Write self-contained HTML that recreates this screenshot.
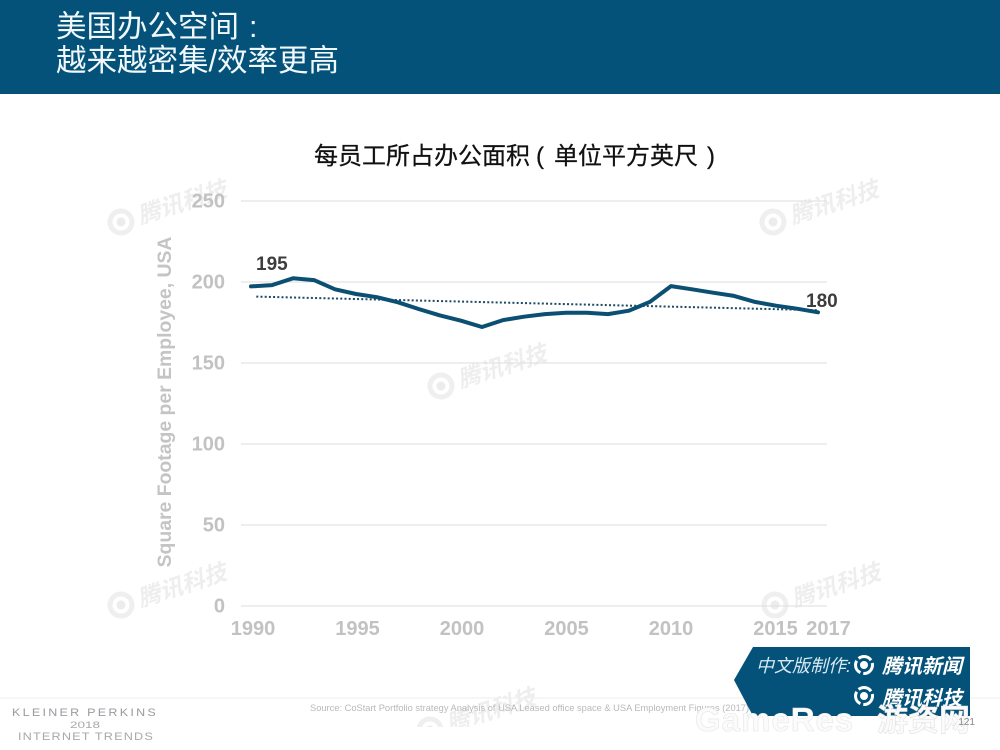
<!DOCTYPE html>
<html lang="zh">
<head>
<meta charset="utf-8">
<title>美国办公空间</title>
<style>
html,body{margin:0;padding:0;background:#fff;}
body{width:1000px;height:750px;overflow:hidden;position:relative;}
svg{display:block;position:absolute;left:0;top:0;}
text{font-family:"Liberation Sans","Noto Sans CJK SC",sans-serif;}
.wm text{font-size:23px;font-weight:700;font-style:italic;fill:#eeeeee;}
</style>
</head>
<body>
<svg id="chart" width="1000" height="750" viewBox="0 0 1000 750" xmlns="http://www.w3.org/2000/svg">
  <defs>
    <clipPath id="wm-clip"><rect x="0" y="0" width="1000" height="727"/></clipPath>
    <g id="logo-mark-grey">
      <circle cx="0" cy="0" r="11" fill="none" stroke="#efefef" stroke-width="5"/>
      <circle cx="0" cy="0" r="4.5" fill="#ececec"/>
    </g>
  </defs>

  <rect x="0" y="0" width="1000" height="94" fill="#04527a"/>
  <text x="56" y="37" font-size="30.5" fill="#f1f8fb">美国办公空间<tspan x="249">:</tspan></text>
  <text x="56" y="71" font-size="30.5" fill="#f1f8fb">越来越密集/效率更高</text>

  <g class="wm" transform="translate(121,222) rotate(-18)"><use href="#logo-mark-grey"/><text x="18" y="8">腾讯科技</text></g>
  <g class="wm" transform="translate(773,222) rotate(-18)"><use href="#logo-mark-grey"/><text x="18" y="8">腾讯科技</text></g>
  <g class="wm" transform="translate(441,386) rotate(-18)"><use href="#logo-mark-grey"/><text x="18" y="8">腾讯科技</text></g>
  <g class="wm" transform="translate(121,605) rotate(-18)"><use href="#logo-mark-grey"/><text x="18" y="8">腾讯科技</text></g>
  <g class="wm" transform="translate(775,605) rotate(-18)"><use href="#logo-mark-grey"/><text x="18" y="8">腾讯科技</text></g>
  <g clip-path="url(#wm-clip)"><g class="wm" transform="translate(430,730) rotate(-18)"><use href="#logo-mark-grey"/><text x="18" y="8">腾讯科技</text></g></g>

  <text x="314" y="164" font-size="24" font-weight="400" fill="#111111" stroke="#111111" stroke-width="0.25">每员工所占办公面积<tspan x="536">(</tspan><tspan x="554">单位平方英尺</tspan><tspan x="707">)</tspan></text>
  <text transform="translate(171,402) rotate(-90)" text-anchor="middle" font-size="19.4" font-weight="700" fill="#c4c4c4">Square Footage per Employee, USA</text>

  <g id="grid"></g>
  <g id="y-ticks"></g>
  <g id="x-ticks"></g>
  <polyline id="trend" fill="none" stroke="#1c4a63" stroke-width="2" stroke-dasharray="2 2.2"/>
  <polyline id="series" fill="none" stroke="#0b4f73" stroke-width="4" stroke-linejoin="round" stroke-linecap="round"/>
  <text x="256" y="270" font-size="19" font-weight="700" fill="#3d3d3d">195</text>
  <text x="806" y="307" font-size="19" font-weight="700" fill="#3d3d3d">180</text>

  <line x1="0" y1="698" x2="1000" y2="698" stroke="#eeeeee" stroke-width="1"/>
  <text x="12" y="716" textLength="146" lengthAdjust="spacingAndGlyphs" font-size="11" letter-spacing="2" fill="#9a9aa0">KLEINER PERKINS</text>
  <text x="70" y="728" textLength="30" lengthAdjust="spacingAndGlyphs" font-size="9" fill="#a8a8ae">2018</text>
  <text x="18" y="740" textLength="136" lengthAdjust="spacingAndGlyphs" font-size="11" letter-spacing="1" fill="#a8a8ae">INTERNET TRENDS</text>
  <text x="310" y="711" font-size="9.3" fill="#b9b9b9">Source: CoStart Portfolio strategy Analysis of USA Leased office space &amp; USA Employment Figures (2017)</text>

  <polygon points="734,680 753,647 970,647 970,716 753,716" fill="#04527a"/>
  <text x="756" y="672" font-size="18" font-style="italic" fill="#d8e9f1">中文版制作:</text>
  <g>
    <circle cx="864" cy="665" r="8.5" fill="none" stroke="#fff" stroke-width="3" stroke-dasharray="14 3"/>
    <circle cx="864" cy="665" r="4" fill="#fff"/>
  </g>
  <text x="882" y="673" font-size="20" font-weight="700" font-style="italic" fill="#fff">腾讯新闻</text>
  <g>
    <circle cx="864" cy="696" r="8.5" fill="none" stroke="#fff" stroke-width="3" stroke-dasharray="14 3"/>
    <circle cx="864" cy="696" r="4" fill="#fff"/>
  </g>
  <text x="882" y="705" font-size="20" font-weight="700" font-style="italic" fill="#fff">腾讯科技</text>

  <text x="695" y="731" font-size="33" font-weight="700" fill="#fbfbfb" stroke="#e6e6e6" stroke-width="0.6" letter-spacing="1">GameRes</text>
  <text x="877" y="731" font-size="31" font-weight="700" fill="#fbfbfb" stroke="#e2e2e2" stroke-width="0.6">游资网</text>
  <text x="975" y="725" text-anchor="end" font-size="10" fill="#888888">121</text>
</svg>

<script>
var years = [1990,1991,1992,1993,1994,1995,1996,1997,1998,1999,2000,2001,2002,2003,2004,2005,2006,2007,2008,2009,2010,2011,2012,2013,2014,2015,2016,2017];
var sqftValues = [197.3,198.1,202.3,201.2,195.5,192.6,190.6,187.5,183.3,179.4,176.1,172.2,176.5,178.6,180.2,181,181,180.2,182.3,187.8,197.5,195.5,193.4,191.4,187.7,185.4,183.5,181.3];
var trendYears = [1990.25,2017];
var trendValues = [191,182.6];
var yTickLabels = [0,50,100,150,200,250];
var xTickLabels = [1990,1995,2000,2005,2010,2015,2017];

var SVG_NS = 'http://www.w3.org/2000/svg';
function xScale(year){ return 251 + (year - 1990) * (818 - 251) / 27; }
function yScale(v){ return 606 - v * (606 - 201) / 250; }
function xLabelPos(year){ return year === 2017 ? xScale(year) + 10.5 : 253 + (year - 1990) * 20.9; }
function pointsOf(xs, ys){
  return xs.map(function(x, i){ return xScale(x).toFixed(1) + ',' + yScale(ys[i]).toFixed(1); }).join(' ');
}

document.getElementById('series').setAttribute('points', pointsOf(years, sqftValues));
document.getElementById('trend').setAttribute('points', pointsOf(trendYears, trendValues));

var gridGroup = document.getElementById('grid');
var yGroup = document.getElementById('y-ticks');
var xGroup = document.getElementById('x-ticks');

yTickLabels.forEach(function(v){
  var line = document.createElementNS(SVG_NS, 'line');
  
  
  line.setAttribute('x1', 241);
  line.setAttribute('x2', 827);
  line.setAttribute('y1', yScale(v));
  line.setAttribute('y2', yScale(v));
  line.setAttribute('stroke', '#dedede');
  line.setAttribute('stroke-width', 1);
  gridGroup.appendChild(line);

  var label = document.createElementNS(SVG_NS, 'text');
  
  
  label.setAttribute('x', 225);
  label.setAttribute('y', yScale(v) + 6.5);
  label.setAttribute('text-anchor', 'end');
  label.setAttribute('font-size', 20);
  label.setAttribute('font-weight', 700);
  label.setAttribute('fill', '#c2c2c2');
  label.textContent = v;
  yGroup.appendChild(label);
});

xTickLabels.forEach(function(y){
  var label = document.createElementNS(SVG_NS, 'text');
  
  
  label.setAttribute('x', xLabelPos(y));
  label.setAttribute('y', 635);
  label.setAttribute('text-anchor', 'middle');
  label.setAttribute('font-size', 20);
  label.setAttribute('font-weight', 700);
  label.setAttribute('fill', '#c2c2c2');
  label.textContent = y;
  xGroup.appendChild(label);
});
</script>
</body>
</html>
